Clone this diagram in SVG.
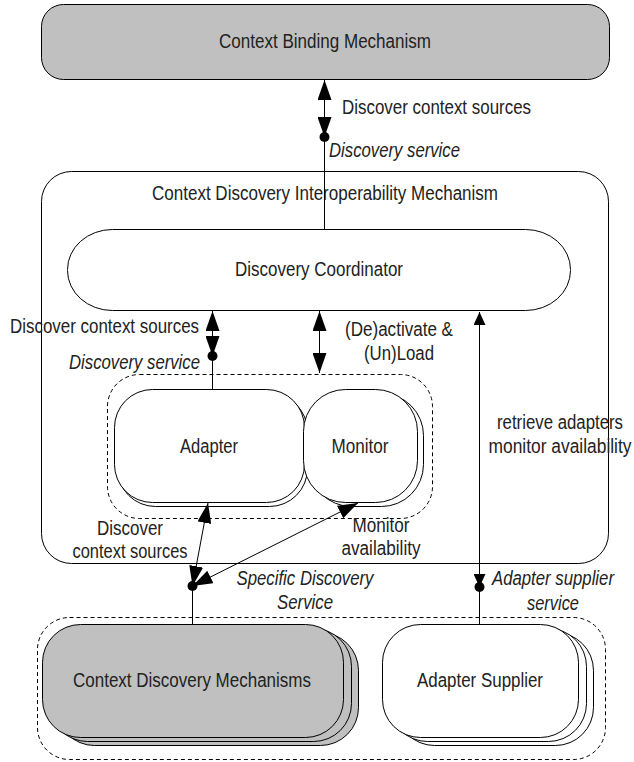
<svg xmlns="http://www.w3.org/2000/svg" width="634" height="762" viewBox="0 0 634 762">
<style>
.box{fill:#fff;stroke:#000;stroke-width:1}
.gray{fill:#c0c0c0}
.dash{fill:none;stroke:#000;stroke-width:1;stroke-dasharray:4 3}
.t{font-family:'Liberation Sans',Arial,sans-serif;font-size:20px;fill:#222;text-anchor:middle}
.s{text-anchor:start}
.e{text-anchor:end}
.i{font-style:italic}
.c{stroke:#000;stroke-width:1;fill:none}
.dot{fill:#000}
</style>
<defs>
<marker id="ah" markerUnits="userSpaceOnUse" viewBox="0 0 20 14" markerWidth="20" markerHeight="14" refX="20" refY="7" orient="auto-start-reverse"><path d="M0,0 L20,7 L0,14 z" fill="#000"/></marker>
<marker id="as" markerUnits="userSpaceOnUse" viewBox="0 0 13 12" markerWidth="13" markerHeight="12" refX="13" refY="6" orient="auto-start-reverse"><path d="M0,0 L13,6 L0,12 z" fill="#000"/></marker>
</defs>

<g id="cbm">
<rect class="box gray" x="41.5" y="4.5" width="568" height="75" rx="22"/>
<text class="t" x="325" y="48" textLength="212" lengthAdjust="spacingAndGlyphs">Context Binding Mechanism</text>
</g>

<g id="cdim">
<rect class="box" x="41.5" y="171.5" width="567" height="392" rx="30"/>
<text class="t" x="325" y="200" textLength="346" lengthAdjust="spacingAndGlyphs">Context Discovery Interoperability Mechanism</text>
</g>

<g id="dc">
<rect class="box" x="67.5" y="229.5" width="503" height="81" rx="45" ry="40"/>
<text class="t" x="319" y="276" textLength="168" lengthAdjust="spacingAndGlyphs">Discovery Coordinator</text>
</g>

<g id="adapter-group">
<rect class="dash" x="107.5" y="374.5" width="325" height="144" rx="32"/>
</g>

<g id="adapter">
<rect class="box" x="117.5" y="393.5" width="190" height="113" rx="38"/>
<rect class="box" x="114.5" y="389.5" width="190" height="113" rx="38"/>
<text class="t" x="209" y="453" textLength="58" lengthAdjust="spacingAndGlyphs">Adapter</text>
</g>

<g id="monitor">
<rect class="box" x="309.5" y="393.5" width="114" height="113" rx="42"/>
<rect class="box" x="303.5" y="389.5" width="114" height="113" rx="42"/>
<text class="t" x="360" y="453" textLength="57" lengthAdjust="spacingAndGlyphs">Monitor</text>
</g>

<g id="bottom-group">
<rect class="dash" x="37.5" y="617.5" width="568" height="142" rx="32"/>
</g>

<g id="cdm">
<rect class="box gray" x="56.5" y="632.5" width="302" height="113" rx="38"/>
<rect class="box gray" x="49.5" y="628.5" width="302" height="113" rx="38"/>
<rect class="box gray" x="42.5" y="624.5" width="301" height="113" rx="38"/>
<text class="t" x="192" y="687" textLength="238" lengthAdjust="spacingAndGlyphs">Context Discovery Mechanisms</text>
</g>

<g id="as">
<rect class="box" x="396.5" y="632.5" width="197" height="113" rx="38"/>
<rect class="box" x="389.5" y="628.5" width="197" height="113" rx="38"/>
<rect class="box" x="382.5" y="624.5" width="196" height="113" rx="38"/>
<text class="t" x="480" y="687" textLength="126" lengthAdjust="spacingAndGlyphs">Adapter Supplier</text>
</g>

<g id="connectors">
<line class="c" x1="324.5" y1="137" x2="324.5" y2="80" marker-start="url(#ah)" marker-end="url(#ah)"/>
<line class="c" x1="324.5" y1="137" x2="324.5" y2="229"/>
<circle class="dot" cx="324.5" cy="137" r="5"/>

<line class="c" x1="212.5" y1="356" x2="212.5" y2="311" marker-start="url(#ah)" marker-end="url(#ah)"/>
<line class="c" x1="212.5" y1="356" x2="212.5" y2="389"/>
<circle class="dot" cx="212.5" cy="356" r="5"/>

<line class="c" x1="319.5" y1="373" x2="319.5" y2="311" marker-start="url(#ah)" marker-end="url(#ah)"/>

<line class="c" x1="479.5" y1="587" x2="479.5" y2="312" marker-start="url(#as)" marker-end="url(#as)"/>
<line class="c" x1="479.5" y1="587" x2="479.5" y2="624"/>
<circle class="dot" cx="479.5" cy="587" r="5"/>

<line class="c" x1="192.5" y1="586" x2="208" y2="503" marker-start="url(#ah)" marker-end="url(#ah)"/>
<line class="c" x1="192.5" y1="586" x2="358" y2="503" marker-start="url(#ah)" marker-end="url(#ah)"/>
<line class="c" x1="192.5" y1="586" x2="192.5" y2="624"/>
<circle class="dot" cx="192.5" cy="586" r="5"/>
</g>

<g id="labels">
<text class="t s" x="342" y="114" textLength="189" lengthAdjust="spacingAndGlyphs">Discover context sources</text>
<text class="t s i" x="329" y="157" textLength="131" lengthAdjust="spacingAndGlyphs">Discovery service</text>
<text class="t e" x="199" y="333" textLength="189" lengthAdjust="spacingAndGlyphs">Discover context sources</text>
<text class="t e i" x="200" y="369" textLength="131" lengthAdjust="spacingAndGlyphs">Discovery service</text>
<text class="t" x="399" y="336" textLength="108" lengthAdjust="spacingAndGlyphs">(De)activate &amp;</text>
<text class="t" x="399" y="360" textLength="70" lengthAdjust="spacingAndGlyphs">(Un)Load</text>
<text class="t" x="560" y="429" textLength="126" lengthAdjust="spacingAndGlyphs">retrieve adapters</text>
<text class="t" x="560" y="453" textLength="143" lengthAdjust="spacingAndGlyphs">monitor availability</text>
<text class="t" x="130" y="535" textLength="66" lengthAdjust="spacingAndGlyphs">Discover</text>
<text class="t" x="130" y="558" textLength="115" lengthAdjust="spacingAndGlyphs">context sources</text>
<text class="t" x="381" y="532" textLength="57" lengthAdjust="spacingAndGlyphs">Monitor</text>
<text class="t" x="381" y="555" textLength="79" lengthAdjust="spacingAndGlyphs">availability</text>
<text class="t i" x="305" y="585" textLength="137" lengthAdjust="spacingAndGlyphs">Specific Discovery</text>
<text class="t i" x="305" y="609" textLength="56" lengthAdjust="spacingAndGlyphs">Service</text>
<text class="t i" x="553" y="585" textLength="122" lengthAdjust="spacingAndGlyphs">Adapter supplier</text>
<text class="t i" x="553" y="610" textLength="52" lengthAdjust="spacingAndGlyphs">service</text>
</g>
</svg>
